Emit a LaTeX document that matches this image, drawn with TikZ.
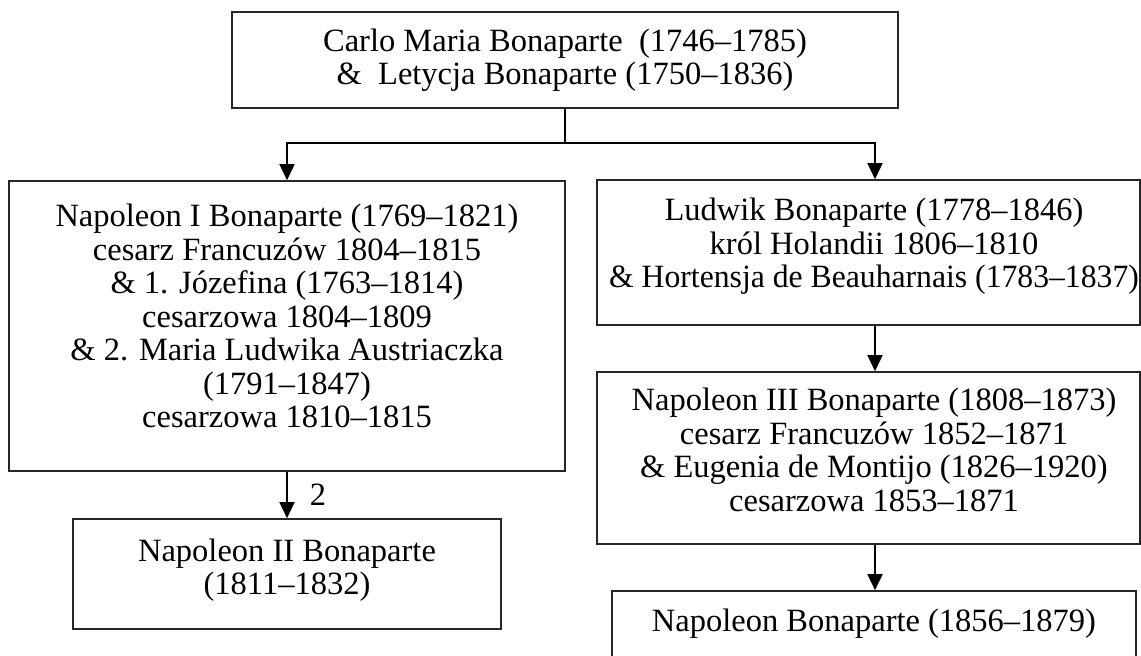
\documentclass[tikz,border=0pt]{standalone}
\usepackage{fontspec}
\setmainfont{Liberation Serif}
\usetikzlibrary{arrows.meta}
\begin{document}
\begin{tikzpicture}[x=1pt,y=-1pt,
  famblock/.style={draw=black!85,line width=1.6pt,inner sep=0pt},
  famtext/.style={align=center,inner sep=0pt,font=\fontsize{32.5}{33.5}\selectfont},
  link/.style={draw=black,line width=1.6pt},
  arr/.style={link,-{Triangle[width=15pt,length=16pt]}},
  lbl/.style={inner sep=0pt,font=\fontsize{32.5}{33.5}\selectfont}]
\useasboundingbox (0,0) rectangle (1141,656);
\clip (0,0) rectangle (1141,656);
% boxes
\node[famblock,minimum width=666pt,minimum height=96pt] (top) at (565,60) {};
\node[famblock,minimum width=556pt,minimum height=290pt] (nap1) at (287,326) {};
\node[famblock,minimum width=428pt,minimum height=110pt] (nap2) at (287,574) {};
\node[famblock,minimum width=543pt,minimum height=145pt] (lud) at (868.5,252.5) {};
\node[famblock,minimum width=543pt,minimum height=172pt] (nap3) at (868.5,458) {};
\node[famblock,minimum width=524pt,minimum height=70pt] (napb) at (874,626) {};
% texts
\node[famtext] (top-t) at (565,60)
  {Carlo Maria Bonaparte\hspace{0.5em}(1746–1785)\\ \&\hspace{0.5em}Letycja Bonaparte (1750–1836)};
\node[famtext] (nap1-t) at (287,316)
  {Napoleon I Bonaparte (1769–1821)\\ cesarz Francuzów 1804–1815\\ \& 1. Józefina (1763–1814)\\ cesarzowa 1804–1809\\ \& 2. Maria Ludwika Austriaczka\\ (1791–1847)\\ cesarzowa 1810–1815};
\node[famtext] (nap2-t) at (287,570)
  {Napoleon II Bonaparte\\ (1811–1832)};
\node[famtext] (lud-t) at (874,246.5)
  {Ludwik Bonaparte (1778–1846)\\ król Holandii 1806–1810\\ \scalebox{0.975}[1]{\& Hortensja de Beauharnais (1783–1837)}};
\node[famtext] (nap3-t) at (874,450)
  {Napoleon III Bonaparte (1808–1873)\\ cesarz Francuzów 1852–1871\\ \& Eugenia de Montijo (1826–1920)\\ cesarzowa 1853–1871};
\node[famtext] (napb-t) at (874,624)
  {Napoleon Bonaparte (1856–1879)};
% connectors
\coordinate (hub) at (565,143);
\coordinate (lx) at (287,0);
\coordinate (rx) at (875,0);
\draw[link] (top.south) -- (hub);
\draw[arr] (hub) -| (nap1.north -| lx);
\draw[arr] (hub) -| (lud.north -| rx);
\draw[arr] (nap1.south -| lx) -- node[lbl,right=22pt] (two) {2} (nap2.north -| lx);
\draw[arr] (lud.south -| rx) -- (nap3.north -| rx);
\draw[arr] (nap3.south -| rx) -- (napb.north -| rx);
\end{tikzpicture}
\end{document}
